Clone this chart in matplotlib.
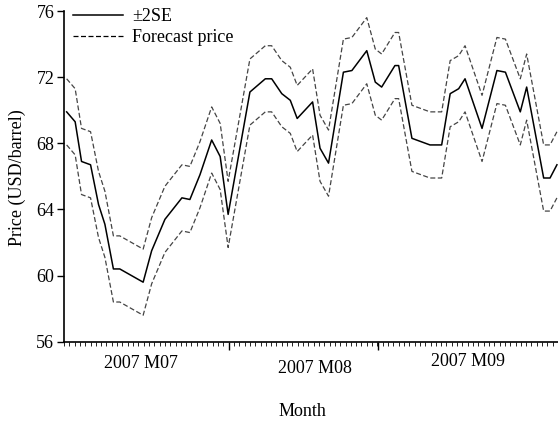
import matplotlib
matplotlib.use("Agg")
import matplotlib.pyplot as plt
from matplotlib.ticker import FixedLocator, MultipleLocator

plt.rcParams['font.family'] = ['Liberation Serif', 'DejaVu Serif']

# trading-day positions of the line vertices
days = [0.5, 2.1, 3.3, 5.0, 6.5, 7.7, 9.3, 10.5, 14.9, 16.5, 19.0, 22.2, 23.7,
        25.6, 27.8, 29.4, 30.9, 35.0, 37.9, 39.1, 41.0, 42.6, 43.9, 46.8, 48.2,
        49.8, 52.6, 54.2, 57.0, 58.6, 59.8, 62.3, 63.0, 65.5, 68.9, 71.1, 72.7,
        74.3, 75.5, 78.7, 81.5, 83.1, 85.9, 87.1, 90.3, 91.5, 92.8]
mid = [69.9, 69.3, 66.9, 66.7, 64.3, 63.1, 60.4, 60.4, 59.6, 61.5, 63.4, 64.7, 64.6,
       66.1, 68.2, 67.2, 63.7, 71.1, 71.9, 71.9, 71.0, 70.6, 69.5, 70.5, 67.7,
       66.8, 72.3, 72.4, 73.6, 71.7, 71.4, 72.7, 72.7, 68.3, 67.9, 67.9, 71.0,
       71.3, 71.9, 68.9, 72.4, 72.3, 69.9, 71.4, 65.9, 65.9, 66.7]
upper = [71.9, 71.3, 68.9, 68.7, 66.3, 65.1, 62.4, 62.4, 61.6, 63.5, 65.4, 66.7, 66.6,
         68.1, 70.2, 69.2, 65.7, 73.1, 73.9, 73.9, 73.0, 72.6, 71.5, 72.5, 69.7,
         68.8, 74.3, 74.4, 75.6, 73.7, 73.4, 74.7, 74.7, 70.3, 69.9, 69.9, 73.0,
         73.3, 73.9, 70.9, 74.4, 74.3, 71.9, 73.4, 67.9, 67.9, 68.7]
lower = [67.9, 67.3, 64.9, 64.7, 62.3, 61.1, 58.4, 58.4, 57.6, 59.5, 61.4, 62.7, 62.6,
         64.1, 66.2, 65.2, 61.7, 69.1, 69.9, 69.9, 69.0, 68.6, 67.5, 68.5, 65.7,
         64.8, 70.3, 70.4, 71.6, 69.7, 69.4, 70.7, 70.7, 66.3, 65.9, 65.9, 69.0,
         69.3, 69.9, 66.9, 70.4, 70.3, 67.9, 69.4, 63.9, 63.9, 64.7]

month_labels = ["2007 M07", "2007 M08", "2007 M09"]
month_label_pos = [14.5, 47.3, 76.1]
month_label_dy = [0.0, -5.0, 2.0]
month_starts = [31, 59.2]
yticks = [56, 60, 64, 68, 72, 76]

fig = plt.figure(figsize=(5.58, 4.24), dpi=100)
ax = fig.add_axes([64/558, (424-341.7)/424, 1 - 64/558, (341.7-11)/424])

ax.plot(days, mid, color='black', lw=1.1, label='±2SE')
ax.plot(days, upper, color='#444444', lw=0.9, ls=(0, (4, 2)), label='Forecast price')
ax.plot(days, lower, color='#444444', lw=0.9, ls=(0, (4, 2)))

ax.set_xlim(0, 93)
ax.set_ylim(56, 76)
ax.set_yticks(yticks)
ax.set_yticklabels([str(v) for v in yticks], fontsize=13)
ax.xaxis.set_major_locator(FixedLocator(month_starts))
ax.xaxis.set_minor_locator(MultipleLocator(1))
ax.set_xticklabels([])
ax.tick_params(axis='x', which='major', length=6, width=1, direction='out')
ax.tick_params(axis='x', which='minor', length=3, width=0.6, direction='out')
ax.tick_params(axis='y', length=5, width=1, direction='out', pad=2)

for s in ['top', 'right']:
    ax.spines[s].set_visible(False)
for s in ['left', 'bottom']:
    ax.spines[s].set_linewidth(1.2)

for lab, pos, dy in zip(month_labels, month_label_pos, month_label_dy):
    ax.annotate(lab, xy=(pos, 0), xycoords=('data', 'axes fraction'),
                xytext=(0, -22 + dy), textcoords='offset pixels',
                ha='center', va='center', fontsize=13)

fig.text((64+558)/2/558 - 0.015, 1 - 411/424, 'Month', ha='center', va='center', fontsize=13)
fig.text(17/558, 1 - 178/424, 'Price (USD/barrel)', rotation=90, ha='center', va='center', fontsize=13)

leg = ax.legend(loc='upper left', bbox_to_anchor=(0.003, 1.03), frameon=False,
                fontsize=13, handlelength=2.8, handletextpad=0.5, labelspacing=0.2,
                borderaxespad=0)
for h in leg.get_lines():
    h.set_color('black')

fig.savefig('out.png', dpi=100)
